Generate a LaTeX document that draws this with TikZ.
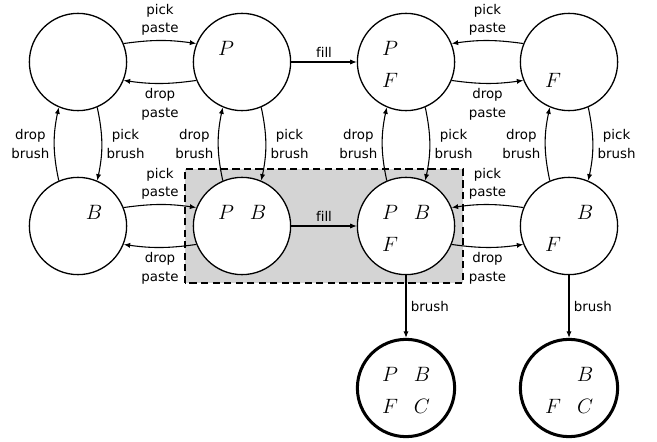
\documentclass[tikz,border=0pt]{standalone}
\usepackage{fontspec}
\newfontfamily\lblfont{DejaVu Sans}[Ligatures=NoCommon]
\usetikzlibrary{arrows.meta,calc}
\begin{document}
\begin{tikzpicture}[x=0.694pt,y=0.694pt,
 st/.style={circle,draw,fill=white,line width=0.9pt,minimum size=67.5pt,inner sep=0pt},
 fin/.style={st,line width=2.1pt},
 lbl/.style={font=\lblfont\fontsize{9.3}{13}\selectfont,align=center,inner sep=3pt},
 ltr/.style={font=\Large,inner sep=0pt},
 arr/.style={-{Latex[length=4.5pt,width=3.6pt]},line width=0.75pt},
 region/.style={fill=black!17,draw,dash pattern=on 5pt off 3pt,line width=0.8pt}]
\useasboundingbox (0,0) rectangle (657,441);
\draw[region] (185,158) rectangle (463,272);
% states
\node[st] (c1) at (78,379) {};
\node[st] (c2) at (242,379) {};
\node[st] (c3) at (406,379) {};
\node[st] (c4) at (569,379) {};
\node[st] (c5) at (78,215) {};
\node[st] (c6) at (242,215) {};
\node[st] (c7) at (406,215) {};
\node[st] (c8) at (569,215) {};
\node[fin] (c9) at (406,53) {};
\node[fin] (c10) at (569,53) {};
% contents
\node[ltr] (c2p) at ($(c2)+(-16,14)$) {$P$};
\node[ltr] (c3p) at ($(c3)+(-16,14)$) {$P$};
\node[ltr] (c3f) at ($(c3)+(-16,-18)$) {$F$};
\node[ltr] (c4f) at ($(c4)+(-16,-18)$) {$F$};
\node[ltr] (c5b) at ($(c5)+(16,14)$) {$B$};
\node[ltr] (c6p) at ($(c6)+(-16,14)$) {$P$};
\node[ltr] (c6b) at ($(c6)+(16,14)$) {$B$};
\node[ltr] (c7p) at ($(c7)+(-16,14)$) {$P$};
\node[ltr] (c7b) at ($(c7)+(16,14)$) {$B$};
\node[ltr] (c7f) at ($(c7)+(-16,-18)$) {$F$};
\node[ltr] (c8b) at ($(c8)+(16,14)$) {$B$};
\node[ltr] (c8f) at ($(c8)+(-16,-18)$) {$F$};
\node[ltr] (c9p) at ($(c9)+(-16,14)$) {$P$};
\node[ltr] (c9b) at ($(c9)+(16,14)$) {$B$};
\node[ltr] (c9f) at ($(c9)+(-16,-18)$) {$F$};
\node[ltr] (c9c) at ($(c9)+(16,-18)$) {$C$};
\node[ltr] (c10b) at ($(c10)+(16,14)$) {$B$};
\node[ltr] (c10f) at ($(c10)+(-16,-18)$) {$F$};
\node[ltr] (c10c) at ($(c10)+(16,-18)$) {$C$};
% horizontal pairs
\draw[arr] (c1.22) to[bend left=8] node[lbl,above] {pick\\paste} (c2.158);
\draw[arr] (c2.202) to[bend left=8] node[lbl,below] {drop\\paste} (c1.338);
\draw[arr] (c4.158) to[bend right=8] node[lbl,above] {pick\\paste} (c3.22);
\draw[arr] (c3.338) to[bend right=8] node[lbl,below] {drop\\paste} (c4.202);
\draw[arr] (c5.22) to[bend left=8] node[lbl,above] {pick\\paste} (c6.158);
\draw[arr] (c6.202) to[bend left=8] node[lbl,below] {drop\\paste} (c5.338);
\draw[arr] (c8.158) to[bend right=8] node[lbl,above] {pick\\paste} (c7.22);
\draw[arr] (c7.338) to[bend right=8] node[lbl,below] {drop\\paste} (c8.202);
% fill
\draw[arr] (c2) -- node[lbl,above] {fill} (c3);
\draw[arr] (c6) -- node[lbl,above] {fill} (c7);
% vertical pairs
\draw[arr] (c5.113) to[bend left=12] node[lbl,left] {drop\\brush} (c1.247);
\draw[arr] (c1.293) to[bend left=12] node[lbl,right] {pick\\brush} (c5.67);
\draw[arr] (c6.113) to[bend left=12] node[lbl,left] {drop\\brush} (c2.247);
\draw[arr] (c2.293) to[bend left=12] node[lbl,right] {pick\\brush} (c6.67);
\draw[arr] (c7.113) to[bend left=12] node[lbl,left] {drop\\brush} (c3.247);
\draw[arr] (c3.293) to[bend left=12] node[lbl,right] {pick\\brush} (c7.67);
\draw[arr] (c8.113) to[bend left=12] node[lbl,left] {drop\\brush} (c4.247);
\draw[arr] (c4.293) to[bend left=12] node[lbl,right] {pick\\brush} (c8.67);
% brush
\draw[arr] (c7) -- node[lbl,right] {brush} (c9);
\draw[arr] (c8) -- node[lbl,right] {brush} (c10);
\end{tikzpicture}
\end{document}
